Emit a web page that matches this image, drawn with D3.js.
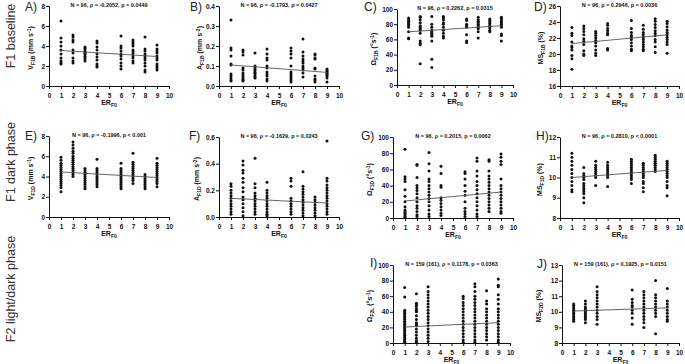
<!DOCTYPE html>
<html><head><meta charset="utf-8">
<script src="https://cdn.jsdelivr.net/npm/d3@7"></script>
<style>
body{margin:0;background:#fff;}
svg{display:block;font-family:"Liberation Sans",Arial,Helvetica,sans-serif;}
</style></head>
<body><svg id="chart" width="685" height="364"></svg>
<script>
// ---- DATA ----
const erLevels = [1,2,3,4,6,7,8,9];
const xTicks = [0,1,2,3,4,5,6,7,8,9,10];

const valuesA = [
 [6.5,4.8,4.4,4.0,3.6,3.2,2.8,2.5,2.3,2.2],
 [5.1,4.9,4.6,4.4,3.6,3.3,2.8,2.5,2.3],
 [3.9,3.8,3.7,3.5,3.4,3.3,3.2,3.0,2.9,2.7,2.5],
 [4.5,4.3,3.9,3.6,3.2,2.9,2.6,2.2,2.0,1.9],
 [5.0,4.0,3.8,3.5,3.2,3.0,2.7,2.3,2.0,1.7],
 [4.6,4.4,4.2,4.0,3.6,3.4,3.2,3.0,2.8,2.5,2.3],
 [4.9,3.7,3.5,3.2,3.0,2.8,2.6,2.3,2.0,1.6,1.4],
 [4.1,3.7,3.5,3.3,3.0,2.8,2.6,2.2,2.0,1.8,1.6]];
const valuesB = [
 [0.33,0.19,0.18,0.15,0.11,0.105,0.06,0.05,0.04,0.03,0.025],
 [0.18,0.17,0.155,0.09,0.08,0.065,0.055,0.045,0.035,0.03,0.025],
 [0.165,0.10,0.095,0.085,0.08,0.07,0.065,0.06,0.05,0.045,0.04],
 [0.185,0.16,0.14,0.13,0.10,0.09,0.07,0.06,0.05,0.035,0.025],
 [0.19,0.175,0.16,0.14,0.10,0.07,0.06,0.05,0.04,0.03,0.02],
 [0.235,0.17,0.15,0.135,0.125,0.115,0.10,0.09,0.08,0.065,0.045],
 [0.16,0.155,0.14,0.135,0.09,0.085,0.05,0.035,0.03,0.02],
 [0.085,0.08,0.075,0.07,0.065,0.06,0.055,0.05,0.04,0.02]];
const valuesC = [
 [88,86,84,82,80,78,76,70,62,61],
 [90,89,86,82,78,76,74,72,68,58,55,53,28],
 [90,80,76,72,70,68,66,64,58,34,23],
 [90,88,86,82,80,76,72,68,64,62],
 [87,85,80,78,76,66,58,56],
 [89,86,84,82,80,78,76,74,70,62],
 [87,85,83,81,79,77,75,72,70],
 [89,88,86,84,82,80,78,76,67,65,58]];
const valuesD = [
 [23.3,22.6,22.3,21.5,21.0,20.8,20.5,19.8,19.4,18.1],
 [23.5,23.2,22.8,22.4,21.9,21.6,21.2,20.4,20.0,19.8],
 [22.8,22.6,22.3,22.0,21.7,21.4,21.0,20.5,20.1,19.8],
 [23.8,23.6,23.2,22.9,22.6,22.4,20.7,20.5],
 [24.2,23.2,22.7,22.3,22.1,21.8,21.4,21.0,20.6,20.4],
 [23.6,23.1,22.7,22.4,22.1,21.8,21.5,21.2,20.9,20.6,20.4],
 [24.4,24.1,23.7,23.3,22.9,22.6,22.3,21.8,21.5,20.9,20.2],
 [24.1,23.8,23.4,23.0,22.7,22.4,22.1,21.8,21.5,21.2,20.1]];
const valuesE = [
 [5.9,5.6,5.3,5.1,4.9,4.7,4.5,4.3,4.1,3.9,3.7,3.5,3.3,3.1,2.9,2.5],
 [7.4,7.1,6.8,6.5,6.3,6.0,5.8,5.6,5.4,5.2,5.0,4.8,4.6,4.4,4.2,4.0],
 [4.8,4.6,4.4,4.2,4.0,3.8,3.6,3.4,3.2,3.0,2.8],
 [5.7,4.8,4.6,4.4,4.2,4.0,3.8,3.6,3.4,3.2,3.0],
 [5.3,4.8,4.6,4.4,4.2,4.0,3.8,3.6,3.4,3.2,3.0,2.8],
 [6.3,5.4,5.2,5.0,4.8,4.6,4.4,4.2,4.0,3.8,3.6,3.3],
 [4.2,4.0,3.8,3.6,3.4,3.2,3.0,2.8],
 [5.8,5.3,5.1,4.9,4.7,4.5,4.3,4.1,3.9,3.7,3.5,3.3,3.0]];
const valuesF = [
 [0.25,0.23,0.20,0.18,0.16,0.14,0.12,0.10,0.08,0.06,0.04,0.02],
 [0.42,0.39,0.35,0.33,0.29,0.26,0.22,0.19,0.15,0.13,0.10,0.07,0.04,0.01],
 [0.44,0.25,0.22,0.18,0.16,0.14,0.12,0.10,0.08,0.06,0.04,0.02],
 [0.26,0.20,0.18,0.16,0.14,0.12,0.10,0.08,0.06,0.04,0.02,0.01],
 [0.29,0.27,0.23,0.14,0.12,0.10,0.08,0.06,0.04,0.02],
 [0.34,0.23,0.21,0.19,0.17,0.15,0.13,0.11,0.09,0.07,0.05,0.03,0.01],
 [0.15,0.13,0.11,0.09,0.07,0.05,0.03,0.01],
 [0.57,0.29,0.27,0.24,0.22,0.20,0.18,0.16,0.14,0.12,0.10,0.08,0.06,0.04,0.02]];
const valuesG = [
 [85,51,48,45,35,27,20,14,10,8,6,4,2,1],
 [66,65,50,40,37,34,30,25,20,15,12,8,4,2],
 [81,67,58,48,45,40,36,32,28,24,20,15,10,5,2],
 [64,55,40,38,25,22,18,14,10,6,3],
 [57,55,48,40,33,28,20,12,8,5,2],
 [74,70,58,52,45,40,35,30,25,20,15,10,5,2],
 [72,70,58,52,48,44,40,36,32,28,24,20,16,12,8],
 [79,75,70,66,48,40,36,32,28,24,20,16,12,8,6]];
const valuesH = [
 [11.2,11.0,10.8,10.6,10.4,10.2,10.0,9.8,9.6,9.4,9.3],
 [10.5,10.2,10.1,10.0,9.9,9.7,9.6,9.5,9.4,9.3,9.2,9.0,8.75],
 [10.8,10.6,10.5,10.4,10.3,10.2,10.1,10.0,9.6],
 [10.75,10.6,10.5,10.4,10.3,10.2,10.1,10.0,9.55],
 [10.9,10.8,10.7,10.6,10.5,10.4,10.3,10.2,10.1,10.0,9.9,9.7],
 [10.7,10.6,10.5,10.4,10.3,10.2,10.1,10.0,9.8,9.7,9.5,9.3],
 [11.1,11.0,10.9,10.8,10.7,10.6,10.5,10.4,10.3],
 [10.8,10.7,10.6,10.5,10.4,10.3,10.2,10.1,10.0,9.8,9.6,9.5,9.1]];
const valuesI = [
 [71,59,42,40,38,36,34,32,30,28,26,24,22,20,18,16,14,12,10,8,6,4,2,1],
 [63,51,49,47,44,42,40,35,30,26,24,22,18,14,10,6,3,1],
 [72,66,62,58,54,50,46,42,38,34,30,26,22,18,14,10,6,2],
 [],
 [60,57,52,48,44,40,36,32,28,24,20,16,12,8,4,1],
 [76,72,66,60,56,52,48,44,40,36,32,28,24,20,16,12,8,4,1],
 [67,54,50,44,40,36,32,28,24,20,16,12,8,4],
 [82,74,72,62,56,50,44,40,36,32,28,24,20,16,12,8,4,1]];
const valuesJ = [
 [10.5,10.4,10.3,10.2,10.1,10.0,9.9,9.8,9.7,9.6,9.5,9.4],
 [10.7,10.5,10.3,10.2,10.1,10.0,9.9,9.8,9.7,9.6,9.5,9.3],
 [11.6,11.3,11.1,10.9,10.7,10.5,10.3,10.1,9.9,9.7,9.5,9.2],
 [],
 [11.4,10.8,10.6,10.4,10.3,10.1,9.9,9.6,9.2],
 [11.3,11.1,10.9,10.7,10.5,10.3,10.1,9.9,9.7,9.5,9.3,9.0],
 [12.0,11.1,10.9,10.7,10.5,10.3,10.1,9.9,9.7,8.6],
 [11.5,10.7,10.5,10.3,10.1,9.9,9.7,9.5,9.4]];

// regression line values at ER = 1 and ER = 9
const fitA = [3.55, 2.95], fitB = [0.105, 0.068], fitC = [70, 78], fitD = [21.3, 22.4], fitE = [4.45, 3.9];
const fitF = [0.14, 0.105], fitG = [21, 32], fitH = [10.0, 10.35], fitI = [20.5, 26], fitJ = [10.05, 10.25];
const fitRange = [1, 9];

const ticksA = [0,2,4,6,8], ticksB = [0,0.1,0.2,0.3,0.4], ticksC = [0,20,40,60,80,100], ticksD = [16,18,20,22,24,26];
const ticksE = [0,2,4,6,8], ticksF = [0,0.2,0.4,0.6], ticksG = [0,20,40,60,80,100], ticksH = [8,9,10,11,12];
const ticksI = [0,20,40,60,80,100], ticksJ = [8,9,10,11,12,13];

const titles = {
 A:"N = 96, \u03C1 = -0.2052, p = 0.0449", B:"N = 96, \u03C1 = -0.1793, p = 0.0427",
 C:"N = 96, \u03C1 = 0.2262, p = 0.0315", D:"N = 96, \u03C1 = 0.2946, p = 0.0036",
 E:"N = 96, \u03C1 = -0.1996, p < 0.001", F:"N = 96, \u03C1 = -0.1629, p = 0.0243",
 G:"N = 96, \u03C1 = 0.2015, p = 0.0062", H:"N = 96, \u03C1 = 0.2810, p < 0.0001",
 I:"N = 159 (161), \u03C1 = 0.1178, p = 0.0363", J:"N = 159 (161), \u03C1 = 0.1925, p = 0.0151"};
const yLabels = {
 A:["V","F1B"," (mm s","-1",")"], B:["A","F1B"," (mm s","-2",")"],
 C:["\u03A9","F1B"," (\u00B0s","-1",")"], D:["MS","F1B"," (%)"],
 E:["V","F1D"," (mm s","-1",")"], F:["A","F1D"," (mm s","-2",")"],
 G:["\u03A9","F1D"," (\u00B0s","-1",")"], H:["MS","F1D"," (%)"],
 I:["\u03A9","F2L"," (\u00B0s","-1",")"], J:["MS","F2D"," (%)"]};
const rowLabels = ["F1 baseline","F1 dark phase","F2 light/dark phase"];

// ---- LAYOUT ----
const panels = [
 {id:"A", v:valuesA, fit:fitA, ticks:ticksA, fmt:d3.format("d"),  x0:49,  x1:169, yT:6,   yB:86,  lab:[25,7],   yl:33},
 {id:"B", v:valuesB, fit:fitB, ticks:ticksB, fmt:d3.format(".1f"),x0:219, x1:339, yT:6,   yB:86,  lab:[190,7],  yl:202},
 {id:"C", v:valuesC, fit:fitC, ticks:ticksC, fmt:d3.format("d"),  x0:397, x1:513, yT:9,   yB:85,  lab:[364,7],  yl:376},
 {id:"D", v:valuesD, fit:fitD, ticks:ticksD, fmt:d3.format("d"),  x0:560, x1:679, yT:6,   yB:86,  lab:[534,7],  yl:543},
 {id:"E", v:valuesE, fit:fitE, ticks:ticksE, fmt:d3.format("d"),  x0:49,  x1:169, yT:136, yB:217, lab:[25,136], yl:33},
 {id:"F", v:valuesF, fit:fitF, ticks:ticksF, fmt:d3.format(".1f"),x0:219, x1:339, yT:137, yB:217, lab:[189,136],yl:199},
 {id:"G", v:valuesG, fit:fitG, ticks:ticksG, fmt:d3.format("d"),  x0:393, x1:513, yT:137, yB:218, lab:[361,136],yl:372},
 {id:"H", v:valuesH, fit:fitH, ticks:ticksH, fmt:d3.format("d"),  x0:560, x1:679, yT:137, yB:218, lab:[536,136],yl:542},
 {id:"I", v:valuesI, fit:fitI, ticks:ticksI, fmt:d3.format("d"),  x0:393, x1:510, yT:265, yB:343, lab:[370,263],yl:372},
 {id:"J", v:valuesJ, fit:fitJ, ticks:ticksJ, fmt:d3.format("d"),  x0:562, x1:679, yT:265, yB:343, lab:[537,264],yl:541}
];
const rowCenters = [36, 162, 289];

const svg = d3.select("#chart");
const ink = "#111";

rowLabels.forEach((t,i)=>{
  svg.append("text").attr("transform",`translate(15,${rowCenters[i]}) rotate(-90)`)
    .attr("text-anchor","middle").attr("font-size",12.5).attr("fill","#333").text(t);
});

function richText(sel, parts){
  sel.append("tspan").text(parts[0]);
  sel.append("tspan").attr("font-size","0.72em").attr("dy",1.5).text(parts[1]);
  sel.append("tspan").attr("dy",-1.5).text(parts[2]);
  if(parts.length>3){
    sel.append("tspan").attr("font-size","0.72em").attr("dy",-2.5).text(parts[3]);
    sel.append("tspan").attr("dy",2.5).text(parts[4]);
  }
}

panels.forEach(p=>{
  const x = d3.scaleLinear().domain([0,10]).range([p.x0,p.x1]);
  const y = d3.scaleLinear().domain([p.ticks[0], p.ticks[p.ticks.length-1]]).range([p.yB,p.yT]);
  const g = svg.append("g");

  const xa = g.append("g").attr("transform",`translate(0,${p.yB})`).attr("color",ink)
    .call(d3.axisBottom(x).tickValues(xTicks).tickSize(3).tickSizeOuter(0).tickFormat(d3.format("d")));
  const ya = g.append("g").attr("transform",`translate(${p.x0},0)`).attr("color",ink)
    .call(d3.axisLeft(y).tickValues(p.ticks).tickSize(3).tickSizeOuter(0).tickFormat(p.fmt));
  [xa,ya].forEach(a=>{
    a.select(".domain").attr("stroke",ink).attr("stroke-width",1);
    a.selectAll(".tick line").attr("stroke",ink).attr("stroke-width",1);
    a.selectAll("text").attr("font-size",6.5).attr("font-weight","bold").attr("fill",ink)
      .attr("font-family","'Liberation Sans',Arial,sans-serif");
  });
  xa.selectAll("text").attr("dy","0.9em");
  ya.selectAll("text").attr("x",-4);

  const pts = [];
  erLevels.forEach((e,i)=>p.v[i].forEach(val=>pts.push([e,val])));
  g.append("g").selectAll("circle").data(pts).join("circle")
    .attr("cx",d=>x(d[0])).attr("cy",d=>y(d[1])).attr("r",1.5).attr("fill",ink);

  g.append("line").attr("x1",x(fitRange[0])).attr("x2",x(fitRange[1]))
    .attr("y1",y(p.fit[0])).attr("y2",y(p.fit[1]))
    .attr("stroke","#555").attr("stroke-width",0.9);

  g.append("text").attr("x",(p.x0+p.x1)/2).attr("y",p.yT+1).attr("text-anchor","middle")
    .attr("font-size",5.5).attr("font-weight","bold").attr("fill",ink).text(titles[p.id]);

  g.append("text").attr("x",p.lab[0]).attr("y",p.lab[1]+4).attr("font-size",12)
    .attr("fill","#222").text(p.id+")");

  const xl = g.append("text").attr("x",(p.x0+p.x1)/2).attr("y",p.yB+19).attr("text-anchor","middle")
    .attr("font-size",7).attr("font-weight","bold").attr("fill",ink);
  xl.append("tspan").text("ER");
  xl.append("tspan").attr("font-size","0.72em").attr("dy",1.5).text("F0");

  const yl = g.append("text").attr("transform",`translate(${p.yl},${(p.yT+p.yB)/2+2}) rotate(-90)`)
    .attr("text-anchor","middle").attr("font-size",7).attr("font-weight","bold").attr("fill",ink);
  richText(yl, yLabels[p.id]);
});
</script></body></html>
